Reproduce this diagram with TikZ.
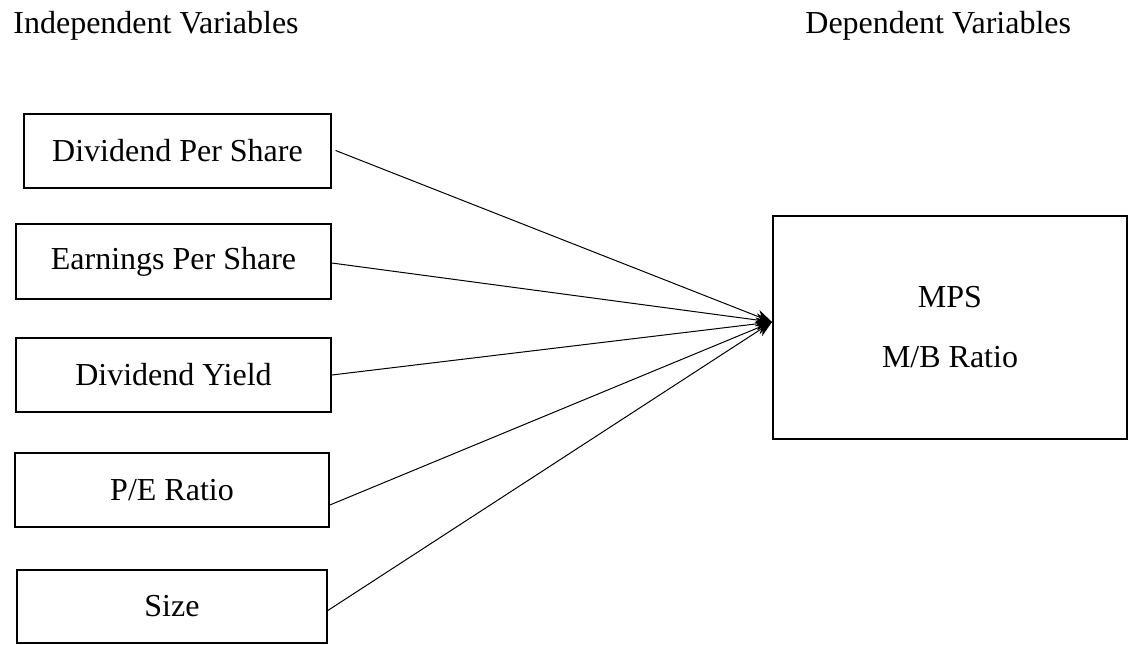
\documentclass[tikz,border=0pt]{standalone}
\usepackage{fontspec}
\setmainfont{Liberation Serif}
\usetikzlibrary{arrows.meta}
\tikzset{
  varbox/.style={draw, line width=0.8pt, inner sep=0pt, font=\fontsize{16}{30}\selectfont, align=center},
  heading/.style={anchor=base west, inner sep=0pt, font=\fontsize{16}{19}\selectfont},
  link/.style={line width=0.5pt, -{Stealth[length=8pt,width=6.5pt]}}
}
\begin{document}
\begin{tikzpicture}[x=0.5pt,y=-0.5pt]
			%%%%% START %%%%%
			\useasboundingbox (0,0) rectangle (1128,644);
			
			\node[heading] (hind) at (13,33) {Independent Variables};
			\node[heading] (hdep) at (805,33) {Dependent Variables};
			
			\node[varbox, minimum width=153.5pt, minimum height=37pt] (dps) at (177.5,151) {Dividend Per Share};
			\node[varbox, minimum width=157.5pt, minimum height=37.5pt] (eps) at (173.5,261.5) {Earnings Per Share};
			\node[varbox, minimum width=157.5pt, minimum height=37pt] (dy) at (173.5,375) {Dividend Yield};
			\node[varbox, minimum width=157pt, minimum height=37pt] (pe) at (172,490) {P/E Ratio};
			\node[varbox, minimum width=155pt, minimum height=36.5pt] (size) at (172,606.5) {Size};
			
			\node[varbox, minimum width=177pt, minimum height=111.5pt] (mps) at (950,327.5) {MPS\\M/B Ratio};
			\coordinate (tip) at (772,322);
			
			\draw[link, shorten <=2pt] ([yshift=1pt]dps.east) -- (tip);
			\draw[link] ([yshift=-0.75pt]eps.east) -- (tip);
			\draw[link] (dy.east) -- (tip);
			\draw[link] ([yshift=-7.5pt]pe.east) -- (tip);
			\draw[link] ([yshift=-2pt]size.east) -- (tip);
			
			%%%%% END %%%%%
\end{tikzpicture}
\end{document}
